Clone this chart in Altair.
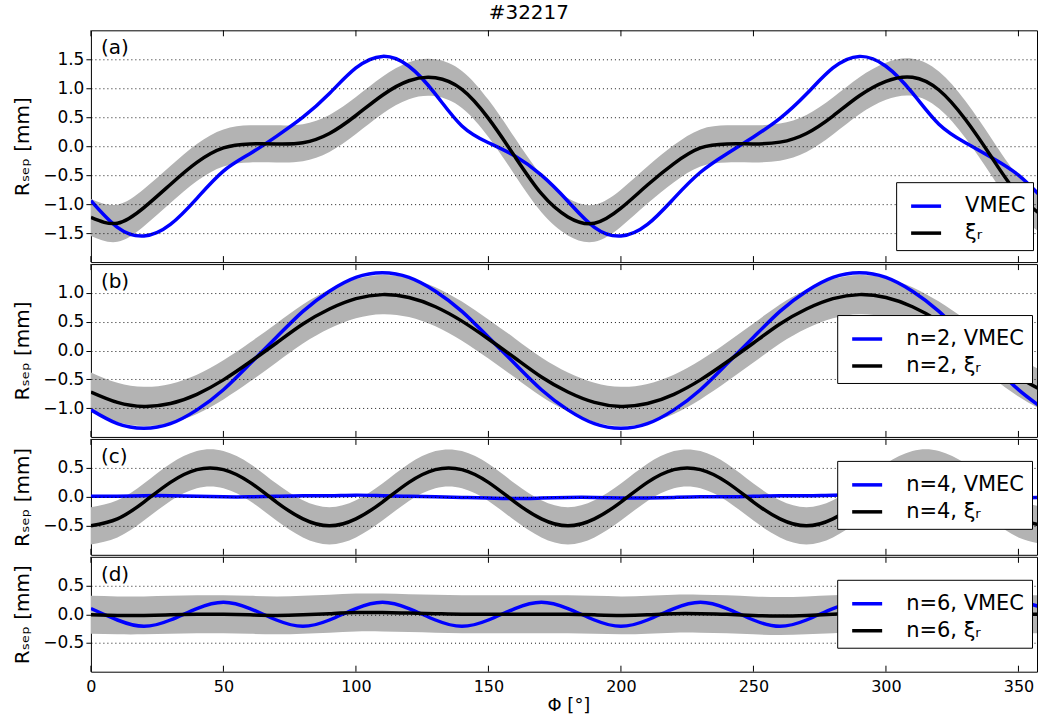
import altair as alt
import pandas as pd

# ---------------- data ----------------
phi = [0, 10, 20, 30, 40, 50, 60, 70, 80, 90, 100, 110, 120, 130, 140, 150, 160, 170,
       180, 190, 200, 210, 220, 230, 240, 250, 260, 270, 280, 290, 300, 310, 320, 330,
       340, 350, 360]
x_ticks = [0, 50, 100, 150, 200, 250, 300, 350]

vmec_a = [-0.94, -1.40, -1.55, -1.35, -0.90, -0.43, -0.13, 0.17, 0.50, 0.91, 1.35, 1.55,
          1.38, 0.90, 0.35, 0.06, -0.17, -0.50, -0.95, -1.40, -1.55, -1.35, -0.90, -0.45,
          -0.13, 0.16, 0.48, 0.90, 1.35, 1.55, 1.38, 0.92, 0.38, 0.06, -0.20, -0.50, -0.94]
xi_a = [-1.23, -1.33, -1.06, -0.66, -0.28, -0.03, 0.04, 0.04, 0.06, 0.22, 0.53, 0.88,
        1.13, 1.18, 0.98, 0.48, -0.18, -0.82, -1.22, -1.33, -1.07, -0.67, -0.30, -0.03,
        0.04, 0.04, 0.07, 0.22, 0.52, 0.87, 1.12, 1.19, 0.97, 0.46, -0.20, -0.84, -1.23]

vmec_b = [-1.03, -1.27, -1.35, -1.27, -1.03, -0.68, -0.23, 0.23, 0.68, 1.03, 1.27, 1.35,
          1.27, 1.03, 0.68, 0.23, -0.23, -0.68, -1.03, -1.27, -1.35, -1.27, -1.03, -0.68,
          -0.23, 0.23, 0.68, 1.03, 1.27, 1.35, 1.27, 1.03, 0.68, 0.23, -0.23, -0.68, -1.03]
xi_b = [-0.72, -0.90, -0.97, -0.92, -0.76, -0.51, -0.20, 0.13, 0.46, 0.72, 0.90, 0.97,
        0.92, 0.76, 0.51, 0.20, -0.13, -0.46, -0.72, -0.90, -0.97, -0.92, -0.76, -0.51,
        -0.20, 0.13, 0.46, 0.72, 0.90, 0.97, 0.92, 0.76, 0.51, 0.20, -0.13, -0.46, -0.72]

vmec_c = [0.01, 0.01, 0.02, 0.02, 0.01, 0.00, 0.00, 0.01, 0.02, 0.02, 0.03, 0.02,
          0.01, 0.00, -0.01, -0.02, -0.03, -0.02, -0.01, -0.01, -0.02, -0.02, -0.01, 0.00,
          0.00, 0.01, 0.02, 0.02, 0.03, 0.03, 0.02, 0.01, 0.00, -0.01, -0.02, -0.02, -0.01]
xi_c = [-0.50, -0.38, -0.09, 0.25, 0.47, 0.47, 0.25, -0.09, -0.38, -0.50, -0.38, -0.09,
        0.25, 0.47, 0.47, 0.25, -0.09, -0.38, -0.50, -0.38, -0.09, 0.25, 0.47, 0.47,
        0.25, -0.09, -0.38, -0.50, -0.38, -0.09, 0.25, 0.47, 0.47, 0.25, -0.09, -0.38, -0.50]

vmec_d = [0.10, -0.10, -0.21, -0.10, 0.10, 0.21, 0.10, -0.10, -0.21, -0.10, 0.10, 0.21,
          0.10, -0.10, -0.21, -0.10, 0.10, 0.21, 0.10, -0.10, -0.21, -0.10, 0.10, 0.21,
          0.10, -0.10, -0.21, -0.10, 0.10, 0.21, 0.10, -0.10, -0.21, -0.10, 0.10, 0.21, 0.10]
xi_d = [-0.01, -0.02, -0.02, -0.01, 0.00, 0.00, -0.01, -0.02, -0.01, 0.01, 0.03, 0.03,
        0.02, 0.01, 0.00, 0.00, 0.00, 0.00, 0.00, -0.01, -0.02, -0.01, 0.01, 0.01,
        0.00, -0.02, -0.03, -0.02, 0.00, 0.02, 0.03, 0.03, 0.02, 0.01, 0.00, 0.00, 0.00]

# half-width of the grey uncertainty band in each panel (mm)
band_err = {"a": 0.32, "b": 0.34, "c": 0.32, "d": 0.33}

labels_a = ["VMEC", "ξᵣ"]
labels_b = ["n=2, VMEC", "n=2, ξᵣ"]
labels_c = ["n=4, VMEC", "n=4, ξᵣ"]
labels_d = ["n=6, VMEC", "n=6, ξᵣ"]

FONT = "DejaVu Sans"
W = 947


def panel(vmec, xi, labels, err, ydom, yticks, h, tag, lx, ly, bottom=False):
    df = pd.DataFrame({
        "phi": phi + phi,
        "value": vmec + xi,
        "series": [labels[0]] * len(phi) + [labels[1]] * len(phi),
    })
    xs = alt.Scale(domain=[0, 357], nice=False, zero=False)
    if bottom:
        xaxis = alt.Axis(values=x_ticks, title="Φ [°]", labelFontSize=16, tickSize=0,
                         labelPadding=7, titleFontSize=18, titlePadding=2, grid=False,
                         domain=False, labelFlush=False, labelOverlap=False,
                         titleFontWeight="normal", titleX=478)
    else:
        xaxis = None
    ys = alt.Scale(domain=ydom, nice=False, zero=False)
    yaxis = alt.Axis(values=yticks, format=".1f", title="Rₛₑₚ [mm]", grid=True,
                     gridDash=[1, 3], gridColor="black", gridOpacity=0.9, gridWidth=1,
                     labelFontSize=17, tickSize=5, labelPadding=2, titleFontSize=20,
                     titlePadding=10, domain=False, zindex=1, titleFontWeight="normal")
    color = alt.Color("series:N",
                      scale=alt.Scale(domain=labels, range=["#0000ff", "#000000"]),
                      legend=alt.Legend(title=None, orient="none", legendX=lx, legendY=ly,
                                        symbolType="stroke", symbolStrokeWidth=3.5,
                                        symbolSize=900, labelFontSize=21, labelFont=FONT,
                                        labelColor="black", fillColor="white",
                                        strokeColor="black", padding=7, rowPadding=0,
                                        labelOffset=22, symbolOffset=6, zindex=2))
    x_enc = alt.X("phi:Q", scale=xs, axis=xaxis)

    band = alt.Chart(pd.DataFrame({"phi": phi, "xi": xi})).transform_calculate(
        lo=f"datum.xi - {err}", hi=f"datum.xi + {err}"
    ).mark_area(color="#b3b3b3", interpolate="natural", clip=True).encode(
        x=x_enc, y=alt.Y("lo:Q", scale=ys, axis=yaxis), y2="hi:Q")

    blue = alt.Chart(df).transform_filter(alt.datum.series == labels[0]).mark_line(
        strokeWidth=3.5, interpolate="natural", clip=True).encode(
        x=x_enc, y=alt.Y("value:Q", scale=ys, axis=yaxis), color=color)
    black = alt.Chart(df).transform_filter(alt.datum.series == labels[1]).mark_line(
        strokeWidth=3.5, interpolate="natural", clip=True).encode(
        x=x_enc, y=alt.Y("value:Q", scale=ys, axis=yaxis), color=color)

    tdf = pd.DataFrame({"phi": x_ticks})
    ticks_top = alt.Chart(tdf).mark_rule(color="black", strokeWidth=1).encode(
        x=x_enc, y=alt.value(0), y2=alt.value(6))
    ticks_bot = alt.Chart(tdf).mark_rule(color="black", strokeWidth=1).encode(
        x=x_enc, y=alt.value(h - 6), y2=alt.value(h))

    label = alt.Chart(pd.DataFrame({"t": [tag]})).mark_text(
        align="left", baseline="top", fontSize=20, font=FONT, color="black").encode(
        x=alt.value(10), y=alt.value(8), text="t:N")

    return alt.layer(band, blue, black, ticks_top, ticks_bot, label).properties(
        width=W, height=h)


pa = panel(vmec_a, xi_a, labels_a, band_err["a"], [-2, 2], [-1.5, -1.0, -0.5, 0.0, 0.5, 1.0, 1.5],
           232, "(a)", 806, 152)
pb = panel(vmec_b, xi_b, labels_b, band_err["b"], [-1.5, 1.5], [-1.0, -0.5, 0.0, 0.5, 1.0],
           173, "(b)", 747, 51)
pc = panel(vmec_c, xi_c, labels_c, band_err["c"], [-1, 1], [-0.5, 0.0, 0.5],
           116, "(c)", 747, 22)
pd_ = panel(vmec_d, xi_d, labels_d, band_err["d"], [-1, 1], [-0.5, 0.0, 0.5],
            115, "(d)", 747, 23, bottom=True)

chart = alt.vconcat(pa, pb, pc, pd_, spacing=0).resolve_scale(
    color="independent"
).properties(
    title=alt.Title("#32217", fontSize=20, fontWeight="normal", font=FONT,
                    anchor="middle", offset=6, color="black", dx=4),
    padding={"left": 12, "top": 3, "right": 0, "bottom": 0},
).configure(font=FONT).configure_view(
    stroke="black", strokeWidth=1
).configure_axis(
    labelFont=FONT, titleFont=FONT, labelColor="black", titleColor="black",
    tickColor="black"
)

chart.save("out.html", embed_options={"renderer": "svg", "actions": False})
